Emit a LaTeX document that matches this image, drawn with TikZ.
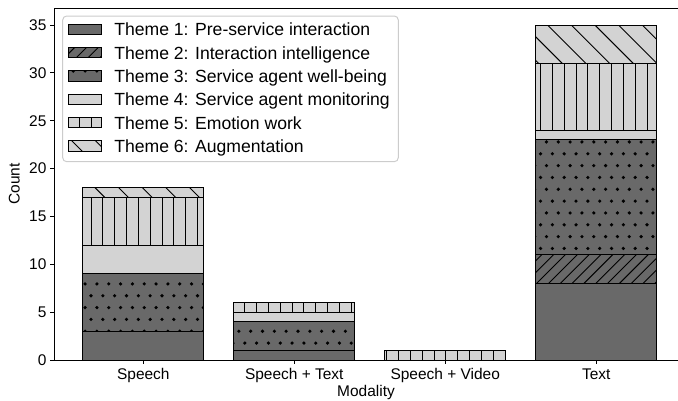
\documentclass[tikz,border=0pt]{standalone}
\usepackage{fontspec}
\setmainfont{Liberation Sans}
\definecolor{darkbar}{HTML}{696969}
\definecolor{lightbar}{HTML}{D3D3D3}
\definecolor{legedge}{HTML}{CCCCCC}

% hatch patterns on a fixed page grid (period in px)
\newcommand{\hvert}{\foreach \k in {0,...,57}{\draw[hatchline] ({8.19+11.83*\k},0) -- ({8.19+11.83*\k},400);}}
\newcommand{\hfwd}{\foreach \k in {0,...,92}{\draw[hatchline] ({3.8+11.83*\k},0) -- ({3.8+11.83*\k-400},400);}}
\newcommand{\hback}{\foreach \k in {-17,...,29}{\draw[hatchline] ({2+23.66*\k},0) -- ({2+23.66*\k+400},400);}}
% dots, limited to the rows/columns around a box #1..#4 (x1,y1,x2,y2)
\newcommand{\hdots}[4]{%
  \pgfmathtruncatemacro\rA{floor(#2/11.83)}\pgfmathtruncatemacro\rB{ceil(#4/11.83)}%
  \pgfmathtruncatemacro\cA{floor(#1/11.83)-1}\pgfmathtruncatemacro\cB{ceil(#3/11.83)+1}%
  \foreach \r in {\rA,...,\rB}{%
    \pgfmathsetmacro\off{isodd(\r) ? 8.19 : 2.27}%
    \foreach \k in {\cA,...,\cB}{\fill ({\off+11.83*\k},{11.83*\r}) circle[radius=1.35pt];}}}

% one filled, hatched box: x1,y1,x2,y2, colour, hatch kind (0 none,1 fwd,2 dots,3 vert,4 back)
\newcommand{\patchbox}[6]{%
  \fill[#5] (#1,#2) rectangle (#3,#4);
  \begin{scope}
    \clip (#1,#2) rectangle (#3,#4);
    \ifcase#6\or\hfwd\or\hdots{#1}{#2}{#3}{#4}\or\hvert\or\hback\fi
  \end{scope}
  \draw[baredge] (#1,#2) rectangle (#3,#4);
}
% a stacked segment: bar index, from value, to value, colour, hatch
\newcommand{\seg}[5]{%
  \pgfmathsetmacro\xa{143.35+150.95*#1-60.6}\pgfmathsetmacro\xb{143.35+150.95*#1+60.6}%
  \pgfmathsetmacro\ya{360-9.5714*#3}\pgfmathsetmacro\yb{360-9.5714*#2}%
  \patchbox{\xa}{\ya}{\xb}{\yb}{#4}{#5}}

\begin{document}
\begin{tikzpicture}[x=0.75pt,y=-0.75pt,
  hatchline/.style={black,line width=0.7pt},
  baredge/.style={black,line width=0.75pt},
  spine/.style={black,line width=0.75pt},
  lbl/.style={inner sep=0pt,font=\fontsize{11.6}{13.9}\selectfont},
  leglbl/.style={inner sep=0pt,font=\fontsize{13.2}{15.8}\selectfont}]
\useasboundingbox (0,0) rectangle (678,400);

% ---- bars: Speech, Speech + Text, Speech + Video, Text ----
% Theme 1
\seg{0}{0}{3}{darkbar}{0}
\seg{1}{0}{1}{darkbar}{0}
\seg{3}{0}{8}{darkbar}{0}
% Theme 2
\seg{3}{8}{11}{darkbar}{1}
% Theme 3
\seg{0}{3}{9}{darkbar}{2}
\seg{1}{1}{4}{darkbar}{2}
\seg{3}{11}{23}{darkbar}{2}
% Theme 4
\seg{0}{9}{12}{lightbar}{0}
\seg{1}{4}{5}{lightbar}{0}
\seg{3}{23}{24}{lightbar}{0}
% Theme 5
\seg{0}{12}{17}{lightbar}{3}
\seg{1}{5}{6}{lightbar}{3}
\seg{2}{0}{1}{lightbar}{3}
\seg{3}{24}{31}{lightbar}{3}
% Theme 6
\seg{0}{17}{18}{lightbar}{4}
\seg{3}{31}{35}{lightbar}{4}

% ---- axes ----
\coordinate (o) at (54,360);
\coordinate (tl) at (54,8);
\coordinate (br) at (678,360);
\coordinate (tr) at (678,8);
\draw[spine] (tl) -- (o) -- (br);
\draw[spine] (tl) -- (tr);
\foreach \v in {0,5,...,35}{
  \pgfmathsetmacro\yy{360-9.5714*\v}
  \draw[spine] (50,\yy) -- (54,\yy);
  \node[lbl,anchor=east] (ytick\v) at (46.7,\yy) {\v};
}
\foreach \i/\t in {0/Speech,1/Speech + Text,2/Speech + Video,3/Text}{
  \pgfmathsetmacro\xx{143.35+150.95*\i}
  \draw[spine] (\xx,360) -- (\xx,364);
  \node[lbl,anchor=base] (xtick\i) at (\xx,379) {\t};
}
\node[lbl,anchor=base] (xlabel) at (366,396.5) {Modality};
\node[lbl,anchor=base,rotate=90] (ylabel) at (19.5,184) {Count};

% ---- legend ----
\draw[legedge,fill=white,rounded corners=3pt,line width=0.75pt] (62.7,16) rectangle (398.3,161.7);
\foreach \j/\c/\h/\t in {
  0/darkbar/0/{Theme 1: Pre-service interaction},
  1/darkbar/1/{Theme 2: Interaction intelligence},
  2/darkbar/2/{Theme 3: Service agent well-being},
  3/lightbar/0/{Theme 4: Service agent monitoring},
  4/lightbar/3/{Theme 5: Emotion work},
  5/lightbar/4/{Theme 6: Augmentation}}{
  \pgfmathsetmacro\yc{29.3+23.33*\j}
  \pgfmathsetmacro\ya{\yc-5.2}\pgfmathsetmacro\yb{\yc+5.2}
  \patchbox{68.3}{\ya}{101}{\yb}{\c}{\h}
  \node[leglbl,anchor=base west] (leg\j) at (114,\yc+6.4) {\t};
}
\end{tikzpicture}
\end{document}
